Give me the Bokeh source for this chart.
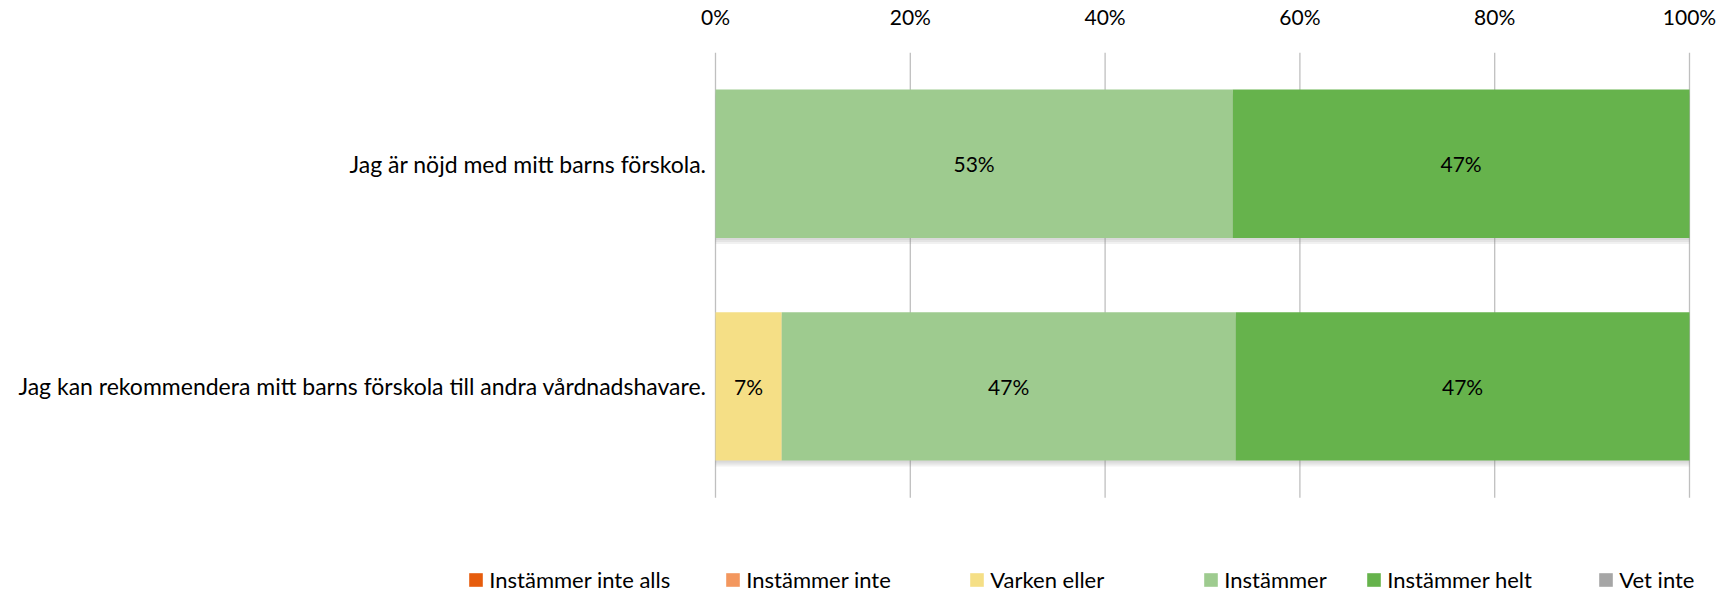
from bokeh.plotting import figure
from bokeh.models import (ColumnDataSource, Range1d, Legend, LegendItem, FixedTicker)
from bokeh.core.properties import value
from bokeh.embed import file_html
from bokeh.resources import INLINE

# ---------------- data ----------------
questions = [
    "Jag är nöjd med mitt barns förskola.",
    "Jag kan rekommendera mitt barns förskola till andra vårdnadshavare.",
]
series = ["Instämmer inte alls", "Instämmer inte", "Varken eller",
          "Instämmer", "Instämmer helt", "Vet inte"]
colors = ["#E65C0C", "#F3975E", "#F5DF86", "#9ECB8F", "#66B34C", "#A6A6A6"]

instammer_inte_alls = [0.0, 0.0]
instammer_inte = [0.0, 0.0]
varken_eller = [0.0, 0.068]
instammer = [0.531, 0.466]
instammer_helt = [0.469, 0.466]
vet_inte = [0.0, 0.0]

tick_values = [0.0, 0.2, 0.4, 0.6, 0.8, 1.0]
tick_labels = ["0%", "20%", "40%", "60%", "80%", "100%"]

values = [instammer_inte_alls, instammer_inte, varken_eller,
          instammer, instammer_helt, vet_inte]

FONT = "Lato"
FS_NUM = "21px"
FS_TXT = "23px"
FS_LEG = "22px"

# ---------------- layout constants (pixels) ----------------
W, H = 1730, 593
PLOT_L, PLOT_R = 715, 1689          # 0% and 100% positions
PLOT_T, PLOT_B = 51, 497            # top / bottom of the category bands
band_px = (PLOT_B - PLOT_T) / len(questions)
unit_px = PLOT_R - PLOT_L

n = len(questions)
y_pos = [n - i - 0.5 for i in range(n)]   # first question on top

p = figure(width=W, height=H, output_backend="svg", toolbar_location=None,
           x_range=Range1d(-PLOT_L / unit_px, 1 + (W - PLOT_R) / unit_px),
           y_range=Range1d(-(H - PLOT_B) / band_px, n),
           x_axis_location="above", y_axis_location=None,
           min_border_left=0, min_border_right=0, min_border_top=PLOT_T,
           min_border_bottom=0)
p.outline_line_color = None
p.background_fill_color = "white"
p.border_fill_color = "white"
p.grid.visible = False

# vertical gridlines at the tick values, spanning the category area only
p.segment(x0=tick_values, x1=tick_values, y0=[0] * len(tick_values),
          y1=[n] * len(tick_values), line_color="#BFBFBF", line_width=1.3)

src = ColumnDataSource(dict(y=y_pos, **{s: v for s, v in zip(series, values)}))

# soft shadows under the bars
totals = [sum(v[i] for v in values) for i in range(n)]
for off_px in (2, 4, 6):
    off = off_px / band_px
    p.hbar(y=[yy - off for yy in y_pos], left=0, right=totals, height=0.667,
           fill_color="#808080", fill_alpha=0.11, line_color=None)

renderers = p.hbar_stack(series, y="y", height=0.667, color=colors, source=src,
                         line_color=None)

# category labels
p.text(x=[0] * n, y=y_pos, text=questions, x_offset=-9, text_align="right",
       text_baseline="middle", text_font=value(FONT), text_font_size=FS_TXT,
       text_color="#000000")

# data labels
lx, ly, lt = [], [], []
for i in range(n):
    cum = 0.0
    for v in values:
        val = v[i]
        if val > 0:
            lx.append(cum + val / 2)
            ly.append(y_pos[i])
            lt.append(f"{round(val * 100):.0f}%")
        cum += val
p.text(x="x", y="y", text="t", source=ColumnDataSource(dict(x=lx, y=ly, t=lt)),
       text_align="center", text_baseline="middle", text_font=value(FONT),
       text_font_size=FS_NUM, text_color="#000000")

# top percentage axis
xa = p.xaxis[0]
xa.ticker = FixedTicker(ticks=tick_values)
xa.major_label_overrides = {v: l for v, l in zip(tick_values, tick_labels)}
xa.axis_line_color = None
xa.major_tick_line_color = None
xa.minor_tick_line_color = None
xa.major_tick_out = 0
xa.major_tick_in = 0
xa.major_label_standoff = 24
xa.major_label_text_font = FONT
xa.major_label_text_font_size = FS_NUM
xa.major_label_text_color = "#000000"

# legend entries along the bottom
legend_left = [469, 726, 970, 1204, 1367, 1599]
for name, r, lxp in zip(series, renderers, legend_left):
    leg = Legend(items=[LegendItem(label=name, renderers=[r])],
                 location=(lxp - 1.7, 0), orientation="horizontal",
                 padding=0, margin=0, spacing=0, glyph_width=17, glyph_height=17,
                 label_standoff=5, label_height=17,
                 border_line_color=None, background_fill_alpha=0,
                 label_text_font=FONT, label_text_font_size=FS_LEG,
                 label_text_color="#000000")
    p.add_layout(leg, "center")

open("out.html", "w").write(file_html(p, INLINE))
